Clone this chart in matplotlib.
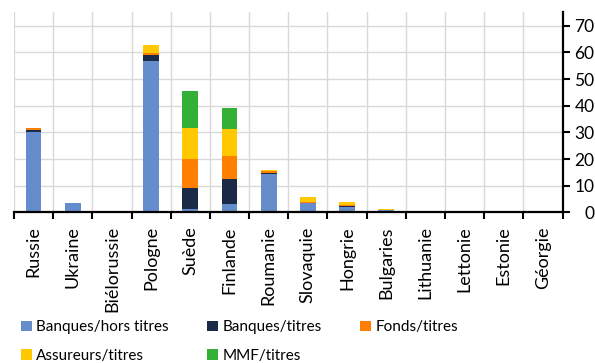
import numpy as np
import matplotlib.pyplot as plt
from matplotlib.patches import Patch

plt.rcParams['font.family'] = ['Lato', 'DejaVu Sans']

pays = ['Russie', 'Ukraine', 'Biélorussie', 'Pologne', 'Suède', 'Finlande',
        'Roumanie', 'Slovaquie', 'Hongrie', 'Bulgaries', 'Lithuanie',
        'Lettonie', 'Estonie', 'Géorgie']

banques_hors_titres = [30.2, 3.5, 0.0, 56.6, 1.1, 3.2, 14.5, 3.5, 2.1, 0.8, 0.0, 0.0, 0.0, 0.0]
banques_titres = [0.7, 0.0, 0.0, 2.5, 8.1, 9.3, 0.35, 0.1, 0.4, 0.1, 0.0, 0.0, 0.1, 0.0]
fonds_titres = [0.8, 0.15, 0.0, 0.5, 10.8, 8.7, 0.5, 0.1, 0.4, 0.0, 0.0, 0.2, 0.0, 0.0]
assureurs_titres = [0.1, 0.0, 0.0, 3.0, 11.7, 10.0, 0.5, 2.0, 1.1, 0.3, 0.3, 0.3, 0.1, 0.0]
mmf_titres = [0.0, 0.0, 0.0, 0.0, 13.7, 8.0, 0.0, 0.0, 0.0, 0.0, 0.3, 0.0, 0.0, 0.0]

series = [
    ('Banques/hors titres', banques_hors_titres, '#658dcb'),
    ('Banques/titres', banques_titres, '#1b2a47'),
    ('Fonds/titres', fonds_titres, '#ff7f00'),
    ('Assureurs/titres', assureurs_titres, '#ffc800'),
    ('MMF/titres', mmf_titres, '#33b035'),
]

fig = plt.figure(figsize=(5.95, 3.63), dpi=100)
ax = fig.add_axes([0.0235, 0.415, 0.922, 0.551])

x = np.arange(len(pays))
bottom = np.zeros(len(pays))
handles = []
for label, vals, color in series:
    vals = np.array(vals)
    ax.bar(x, vals, width=0.4, bottom=bottom, color=color, zorder=3)
    bottom += vals
    handles.append(Patch(facecolor=color, label=label))

ax.set_xlim(-0.5, len(pays) - 0.5)
ax.set_ylim(0, 75)

# category labels at centres, tick marks and grid on the boundaries
ax.set_xticks(x)
ax.set_xticklabels(pays, rotation=90, fontsize=13)
ax.set_xticks(np.arange(len(pays) + 1) - 0.5, minor=True)
ax.tick_params(axis='x', which='major', length=0, pad=10)
ax.tick_params(axis='x', which='minor', length=5, width=1.5, color='black')
ax.grid(axis='x', which='minor', color='#d9d9d9', lw=1, zorder=0)

# right-hand value axis, labels right-aligned
ax.yaxis.tick_right()
ax.set_yticks(np.arange(0, 71, 10))
ax.tick_params(axis='y', length=5, width=1.5, labelsize=12.5, pad=18)
for t in ax.get_yticklabels():
    t.set_horizontalalignment('right')
ax.grid(axis='y', which='major', color='#d9d9d9', lw=1, zorder=0)

for s in ['top', 'left']:
    ax.spines[s].set_visible(False)
ax.spines['bottom'].set_linewidth(1.6)
ax.spines['right'].set_linewidth(1.6)
ax.spines['bottom'].set_zorder(4)

# row-wise ordering across three columns
order = [0, 3, 1, 4, 2]
fig.legend([handles[i] for i in order], [handles[i].get_label() for i in order],
           ncol=3, loc='lower left', bbox_to_anchor=(0.02, -0.025),
           frameon=False, fontsize=11, handlelength=0.7, handleheight=0.7,
           handletextpad=0.3, columnspacing=2.5, labelspacing=0.95,
           borderaxespad=0.2)

fig.savefig('out.png', dpi=100)
